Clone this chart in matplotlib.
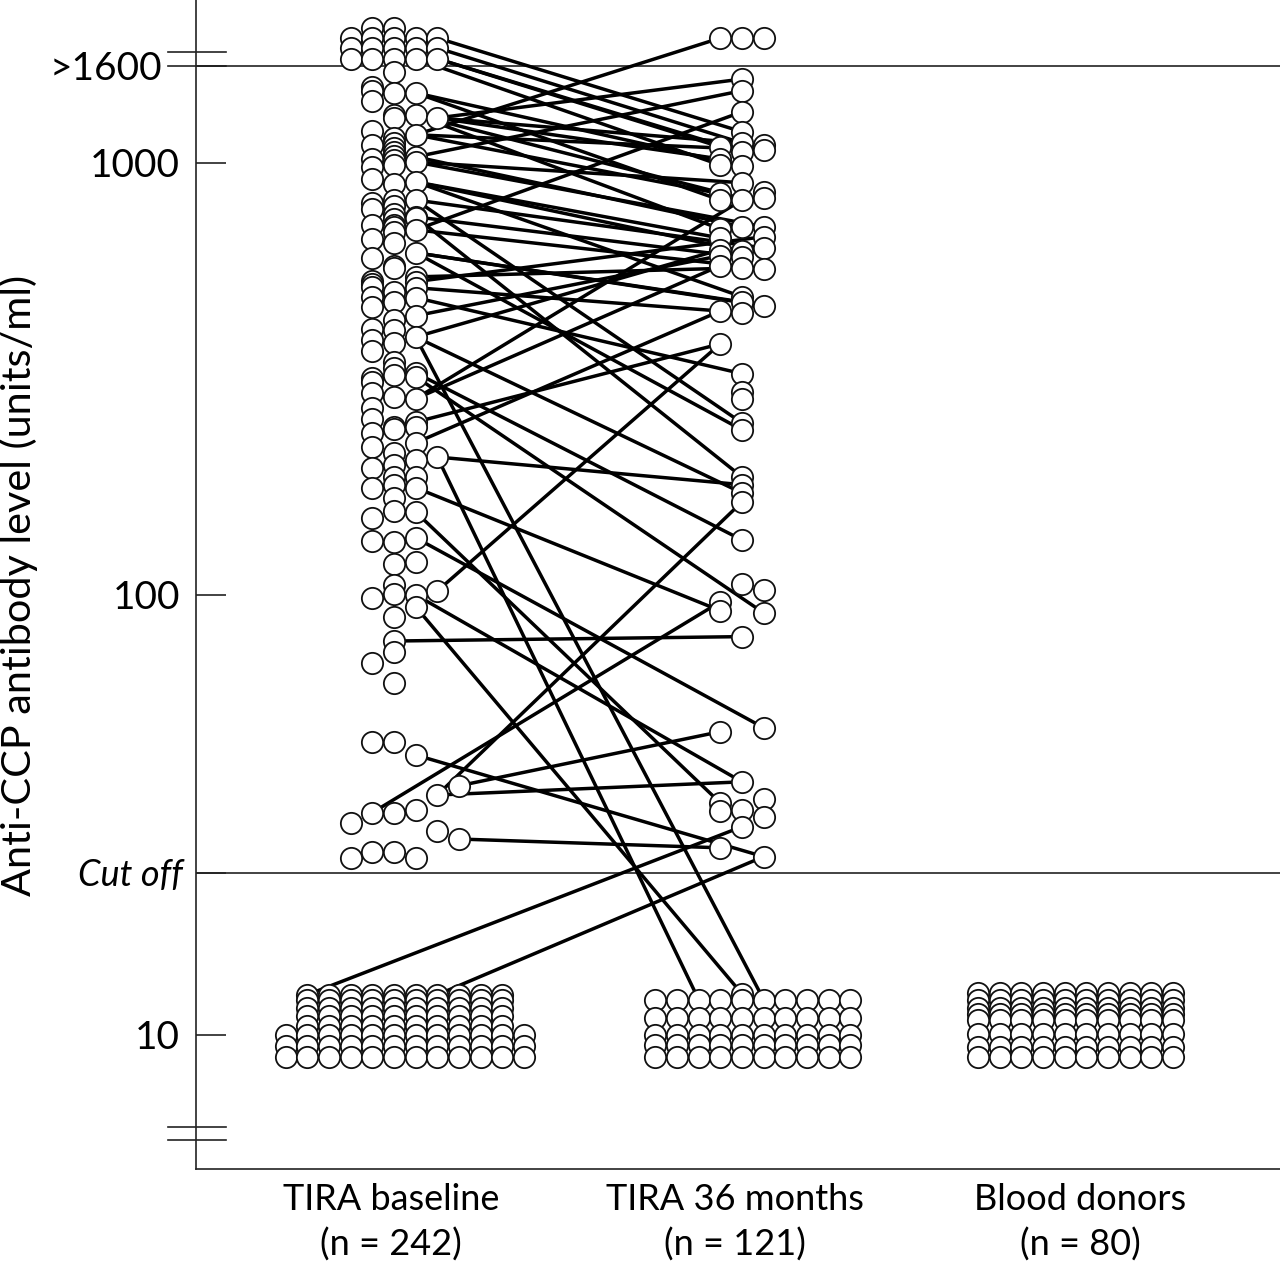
"""
Anti-CCP antibody levels at baseline, at 36 months and in blood donors.
Levels are kept as log10(units/ml), read off the picture.
"""

import numpy as np
import matplotlib
matplotlib.use("Agg")
import matplotlib.pyplot as plt

plt.rcParams['font.family'] = ['Lato', 'DejaVu Sans']

# Category axis
group_labels = ["TIRA baseline\n(n = 242)", "TIRA 36 months\n(n = 121)", "Blood donors\n(n = 80)"]
label_positions = [-0.14, 15.74, 31.66]
baseline_x = 0.0
months_x = 16.06
donors_x = 31.45

# Value axis, log10(units/ml)
tick_levels = [1.0, 1.368, 2.0, 3.0, 3.225]
tick_labels = ["10", "Cut off", "100", "1000", ">1600"]
upper_break = 3.256
lower_breaks = [0.791, 0.761]
cutoff_level = 1.368
over_level = 3.225

# Baseline, positive patients, one list for each column of dots
baseline_col_m2 = [3.289, 3.266, 3.241, 1.482, 1.402]
baseline_col_m1 = [3.313, 3.289, 3.266, 3.241, 3.176, 3.167, 3.144, 3.074, 3.042, 3.009, 2.991,
                   2.963, 2.907, 2.894, 2.856, 2.824, 2.780, 2.727, 2.720, 2.713, 2.690, 2.667,
                   2.616, 2.590, 2.565, 2.502, 2.493, 2.468, 2.433, 2.407, 2.375, 2.343, 2.294,
                   2.248, 2.178, 2.125, 1.993, 1.845, 1.666, 1.505, 1.416]
baseline_col_0 = [3.313, 3.289, 3.266, 3.241, 3.211, 3.162, 3.111, 3.104, 3.058, 3.046, 3.035,
                  3.026, 3.016, 3.007, 2.995, 2.951, 2.914, 2.900, 2.882, 2.870, 2.852, 2.856,
                  2.840, 2.815, 2.762, 2.757, 2.701, 2.678, 2.637, 2.613, 2.583, 2.539, 2.525,
                  2.509, 2.458, 2.389, 2.384, 2.329, 2.301, 2.273, 2.255, 2.225, 2.194, 2.123,
                  2.072, 2.023, 2.002, 1.950, 1.895, 1.870, 1.800, 1.666, 1.505, 1.416]
baseline_col_1 = [3.289, 3.266, 3.241, 3.162, 3.111, 3.065, 3.014, 3.002, 2.956, 2.914, 2.875,
                  2.873, 2.845, 2.792, 2.736, 2.725, 2.711, 2.688, 2.646, 2.597, 2.514, 2.505,
                  2.454, 2.400, 2.389, 2.352, 2.313, 2.273, 2.248, 2.192, 2.132, 2.076, 2.000,
                  1.973, 1.636, 1.511, 1.402]
baseline_col_2 = [3.289, 3.266, 3.241, 3.104, 2.319, 2.009, 1.545, 1.464]
baseline_col_3 = [1.566, 1.445]

# Baseline, stacked rows under the cut off
baseline_wide_cols = [-5, -4, -3, -2, -1, 0, 1, 2, 3, 4, 5, 6]
baseline_wide_rows = [1.000, 0.975, 0.950]
baseline_narrow_cols = [-4, -3, -2, -1, 0, 1, 2, 3, 4, 5]
baseline_narrow_rows = [1.091, 1.061, 1.043, 1.020, 1.080]

# 36 months, positive patients
months_col_m1 = [3.289, 3.037, 3.009, 2.995, 2.931, 2.914, 2.847, 2.826, 2.799, 2.785, 2.762,
                 2.657, 2.581, 1.984, 1.964, 1.689, 1.527, 1.509, 1.425]
months_col_0 = [3.289, 3.194, 3.167, 3.118, 3.072, 3.046, 3.026, 2.993, 2.954, 2.914, 2.852,
                2.796, 2.782, 2.757, 2.690, 2.678, 2.653, 2.512, 2.470, 2.454, 2.398, 2.382,
                2.273, 2.255, 2.236, 2.215, 2.127, 2.025, 1.905, 1.575, 1.511, 1.473]
months_col_1 = [3.289, 3.042, 3.030, 2.933, 2.919, 2.852, 2.829, 2.803, 2.755, 2.669, 2.012,
                1.959, 1.698, 1.536, 1.495, 1.405]

# 36 months, stacked rows under the cut off
months_floor_cols = [-4, -3, -2, -1, 0, 1, 2, 3, 4, 5]
months_floor_rows = [1.080, 1.039, 1.000, 0.977, 0.950]
months_floor_extra_level = 1.093

# Blood donors, all stacked
donors_cols = [-4.5, -3.5, -2.5, -1.5, -0.5, 0.5, 1.5, 2.5, 3.5, 4.5]
donors_rows = [1.095, 1.080, 1.061, 1.048, 1.034, 1.002, 0.973, 0.950]

# Paired patients: baseline column and level, 36 month column and level
link_base_col = [2, 2, 2, 2, 2, 2,
                 1, 1, 1, 1, 1, 1, 1, 1, 1, 1, 1, 1, 1, 1, 1, 1, 1, 1, 1, 1, 1, 1, 1, 1, 1, 1,
                 1, 1, 1, 1, 1, 1, 1, 1, 1, 1, 1, 1, 1,
                 2, 2, 1, 1, 1, 2, 1, 1, 0, 2, 2, 3, 3, 1, -1, -4, 2]
link_base_level = [3.289, 3.266, 3.241, 3.241, 3.104, 3.104,
                   3.241, 3.162, 3.162, 3.111, 3.111, 3.111, 3.065, 3.065, 3.065, 3.014, 3.014,
                   3.002, 3.002, 2.956, 2.956, 2.956, 2.914, 2.914, 2.875, 2.875, 2.845, 2.845,
                   2.792, 2.792, 2.792, 2.736,
                   2.725, 2.711, 2.688, 2.646, 2.597, 2.597, 2.597, 2.514, 2.505, 2.454, 2.454,
                   2.400, 2.352,
                   2.319, 2.319, 2.248, 2.192, 2.132, 2.009, 2.000, 1.973, 1.895, 1.545, 1.545,
                   1.566, 1.445, 1.636, 1.505, 1.091, 1.091]
link_month_col = [0, 0, -1, 0, 0, 1,
                  -1, -1, 0, -1, -1, -1, -1, 0, 1, 0, 0, 0, 1, -1, 0, 0, 0, 1, 0, 0, 0, 1,
                  0, 0, 1, 0,
                  1, -1, 0, -1, -1, 0, 1, 0, 1, -1, 0, -1, -1,
                  0, -2, -1, -1, 1, -1, 0, 0, 0, 0, 0, -1, -1, 1, -1, 0, 1]
link_month_level = [3.072, 3.046, 3.037, 3.026, 3.194, 3.042,
                    2.995, 2.914, 2.993, 3.009, 2.931, 2.847, 3.289, 2.919, 3.030, 3.167, 2.852,
                    2.954, 2.852, 2.826, 2.796, 2.690, 2.398, 2.803, 2.273, 2.782, 3.118, 2.755,
                    2.382, 2.678, 2.669, 2.757,
                    2.829, 2.657, 2.512, 2.785, 2.799, 2.236, 1.080, 2.127, 1.959, 2.762, 2.914,
                    2.581, 2.657,
                    2.255, 1.080, 1.964, 1.527, 1.698, 2.581, 1.575, 1.093, 1.905, 2.215, 1.575,
                    1.689, 1.425, 1.405, 1.984, 1.473, 1.405]


def stack_rows(centre, cols, rows):
    """Every column gets one dot on every row."""
    xs, ys = [], []
    for row in rows:
        for col in cols:
            xs.append(centre + col)
            ys.append(row)
    return xs, ys


def forward(level):
    # the printed decades are not quite equal in height
    return np.interp(level, [-1, 2, 5], [-440, 880, 2176])


def inverse(pos):
    return np.interp(pos, [-440, 880, 2176], [-1, 2, 5])


def main():
    fig = plt.figure(figsize=(12.8, 12.67), dpi=100)
    ax = fig.add_axes([195.5 / 1280, 98 / 1267, 1084.5 / 1280, 1169 / 1267])
    ax.set_yscale('function', functions=(forward, inverse))
    ax.set_xlim(-9.16, 40.89)
    ax.set_ylim(0.695, 3.377)

    # Collect the dots
    xs, ys = [], []
    columns = [(-2, baseline_col_m2), (-1, baseline_col_m1), (0, baseline_col_0),
               (1, baseline_col_1), (2, baseline_col_2), (3, baseline_col_3)]
    for col, levels in columns:
        xs += [baseline_x + col] * len(levels)
        ys += levels
    for col, levels in [(-1, months_col_m1), (0, months_col_0), (1, months_col_1)]:
        xs += [months_x + col] * len(levels)
        ys += levels
    for centre, cols, rows in [(baseline_x, baseline_wide_cols, baseline_wide_rows),
                               (baseline_x, baseline_narrow_cols, baseline_narrow_rows),
                               (months_x, months_floor_cols, months_floor_rows),
                               (donors_x, donors_cols, donors_rows)]:
        row_x, row_y = stack_rows(centre, cols, rows)
        xs += row_x
        ys += row_y
    xs.append(months_x)
    ys.append(months_floor_extra_level)

    # Lower dots are drawn over higher ones
    xs = np.array(xs)
    ys = np.array(ys)
    order = np.argsort(-ys, kind='stable')
    ax.scatter(xs[order], ys[order], s=235, facecolor='white', edgecolor='#111111',
               linewidth=1.3, zorder=3, clip_on=False)

    # Patient links
    for i in range(len(link_base_col)):
        ax.plot([baseline_x + link_base_col[i], months_x + link_month_col[i]],
                [link_base_level[i], link_month_level[i]],
                color='black', lw=2.5, solid_capstyle='butt', zorder=2)

    # Reference lines and axis breaks
    ax.axhline(cutoff_level, color='#222222', lw=1.2, zorder=1)
    ax.axhline(over_level, color='#222222', lw=1.2, zorder=1)
    trans = ax.get_yaxis_transform()
    ax.plot([-0.0254, 0.0281], [over_level, over_level], transform=trans, color='#222222', lw=1.2, clip_on=False)
    ax.plot([-0.0254, 0.0281], [upper_break, upper_break], transform=trans, color='#222222', lw=1.2, clip_on=False)
    for level in lower_breaks:
        ax.plot([-0.0254, 0.0281], [level, level], transform=trans, color='#222222', lw=1.2, clip_on=False)

    # Spines and ticks
    ax.spines['top'].set_visible(False)
    ax.spines['right'].set_visible(False)
    ax.spines['left'].set_linewidth(1.2)
    ax.spines['bottom'].set_linewidth(1.2)
    ax.spines['left'].set_color('#222222')
    ax.spines['bottom'].set_color('#222222')

    ax.set_yticks(tick_levels)
    ax.set_yticklabels(tick_labels, fontsize=28)
    ax.yaxis.set_minor_locator(plt.NullLocator())
    ax.tick_params(axis='y', direction='in', length=21.6, width=1.2, color='#222222', pad=11)
    ax.get_yticklabels()[1].set_style('italic')
    ax.get_yticklabels()[1].set_fontsize(26)
    ax.yaxis.get_major_ticks()[1].set_pad(9)
    ax.yaxis.get_major_ticks()[4].set_pad(24)

    ax.set_xticks(label_positions)
    ax.set_xticklabels(group_labels, fontsize=26, linespacing=1.42)
    ax.tick_params(axis='x', length=0, pad=10)

    ax.set_ylabel("Anti-CCP antibody level (units/ml)", fontsize=29.8)
    ax.yaxis.set_label_coords(-0.145, 0.4996)

    fig.savefig("out.png", dpi=100)
    plt.close(fig)


if __name__ == "__main__":
    main()
